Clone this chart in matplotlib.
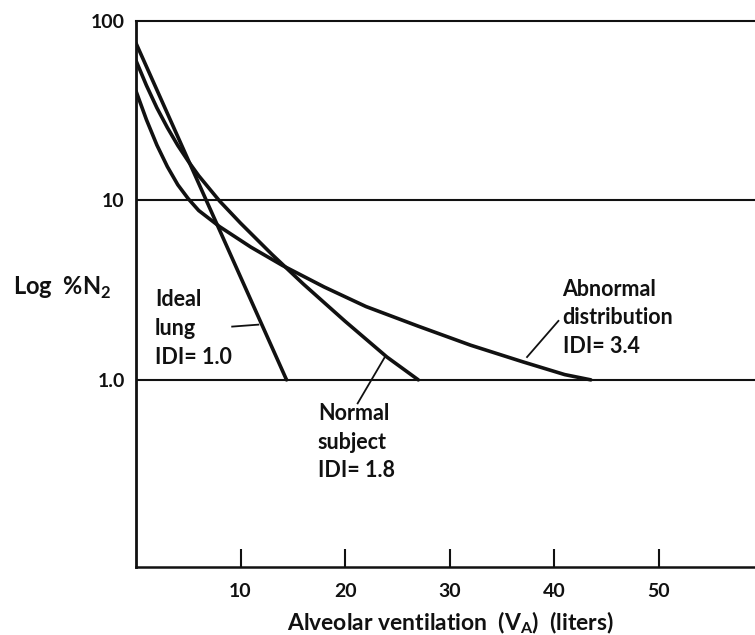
import matplotlib
matplotlib.use("Agg")
import matplotlib.pyplot as plt  # noqa: E402
from matplotlib.ticker import FixedLocator, FixedFormatter, NullLocator  # noqa: E402

plt.rcParams["font.family"] = ["Lato", "DejaVu Sans"]
plt.rcParams["font.weight"] = "bold"
plt.rcParams["mathtext.fontset"] = "custom"
plt.rcParams["mathtext.rm"] = "Lato:bold"

# nitrogen washout curves, %N2 against cumulative alveolar ventilation (liters)
ideal_x = [0, 14.4]
ideal_n2 = [75, 1.0]

normal_x = [0, 1, 2, 3, 4, 5, 6, 8, 10, 13, 16, 20, 24, 27]
normal_n2 = [60, 43.6, 32.7, 25.4, 20.2, 16.5, 13.7, 9.9, 7.46, 5.0, 3.42, 2.12, 1.34, 1.0]

abnormal_x = [0, 1, 2, 3, 4, 5, 6, 8, 11, 14, 18, 22, 27, 32, 37, 41, 43.5]
abnormal_n2 = [40.6, 28.1, 20.3, 15.4, 12.2, 10.2, 8.77, 7.13, 5.48, 4.34, 3.29,
               2.56, 1.99, 1.56, 1.26, 1.07, 1.0]

x_ticks = [10, 20, 30, 40, 50]
y_ticks = [1, 10, 100]
y_tick_labels = ["1.0", "10", "100"]
ref_levels = [10, 1]

INK = "#111111"

fig = plt.figure(figsize=(7.55, 6.35), dpi=100)
fig.patch.set_facecolor("white")
ax = fig.add_axes([0.1801, 0.1063, 0.8199, 0.8611])

ax.set_yscale("log")
ax.set_xlim(0, 59.2)
ax.set_ylim(0.0902, 100)

for lvl in ref_levels:
    ax.axhline(lvl, color=INK, lw=1.5, zorder=2)

curve = dict(color=INK, lw=2.6, solid_capstyle="round", solid_joinstyle="round", zorder=3)
ax.plot(ideal_x, ideal_n2, **curve)
ax.plot(normal_x, normal_n2, **curve)
ax.plot(abnormal_x, abnormal_n2, **curve)

# leader lines from the labels to their curves
ax.plot([9.2, 11.7], [1.98, 2.03], color=INK, lw=1.3)
ax.plot([21.2, 23.8], [0.74, 1.34], color=INK, lw=1.3)
ax.plot([37.4, 40.4], [1.34, 2.13], color=INK, lw=1.3)

lab = dict(fontsize=15.5, color=INK, fontweight="bold", ha="left", va="center", linespacing=1.45)
ax.text(1.8, 1.93, "Ideal\nlung\nIDI= 1.0", **lab)
ax.text(17.4, 0.45, "Normal\nsubject\nIDI= 1.8", **lab)
ax.text(40.8, 2.22, "Abnormal\ndistribution\nIDI= 3.4", **lab)

# axes frame: heavy left and bottom, top rule at 100, open on the right
ax.spines["right"].set_visible(False)
ax.spines["left"].set_linewidth(2.0)
ax.spines["bottom"].set_linewidth(1.8)
ax.spines["top"].set_linewidth(1.5)
for sp in ax.spines.values():
    sp.set_color(INK)

ax.xaxis.set_major_locator(FixedLocator(x_ticks))
ax.xaxis.set_minor_locator(NullLocator())
ax.tick_params(axis="x", direction="in", length=13, width=1.5, pad=11,
               labelsize=14, colors=INK)
ax.yaxis.set_major_locator(FixedLocator(y_ticks))
ax.yaxis.set_major_formatter(FixedFormatter(y_tick_labels))
ax.yaxis.set_minor_locator(NullLocator())
ax.tick_params(axis="y", length=0, pad=8, labelsize=14, colors=INK)
for t in ax.get_xticklabels() + ax.get_yticklabels():
    t.set_fontweight("bold")

fig.text(13 / 755, 1 - 288 / 635, r"Log  %N$_\mathregular{2}$", fontsize=17,
         fontweight="bold", color=INK, ha="left", va="center")
fig.text(450 / 755, 1 - 623 / 635,
         r"Alveolar ventilation  (V$_\mathregular{A}$)  (liters)",
         fontsize=16.5, fontweight="bold", color=INK, ha="center", va="center")

fig.savefig("out.png", dpi=100, facecolor="white")
